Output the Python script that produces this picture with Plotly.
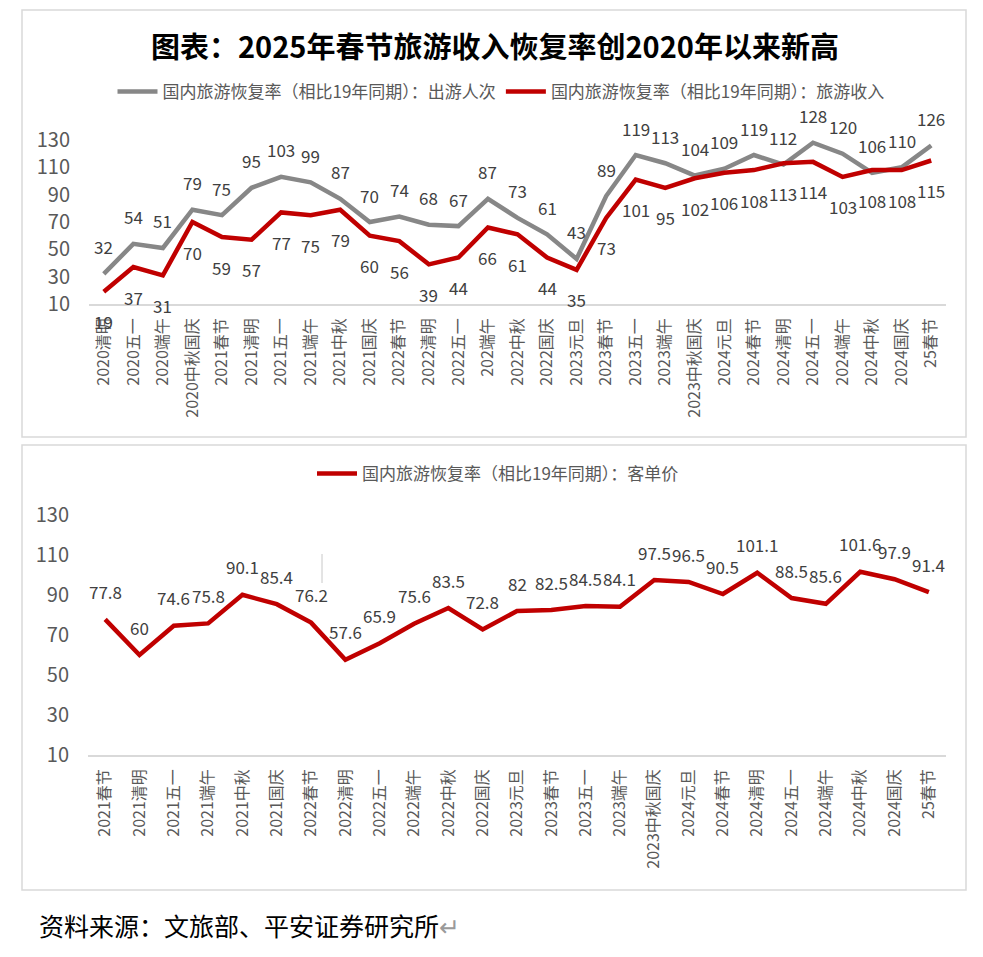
import plotly.graph_objects as go

# ---------------- data ----------------
cats_top = ["2020清明", "2020五一", "2020端午", "2020中秋国庆", "2021春节", "2021清明",
            "2021五一", "2021端午", "2021中秋", "2021国庆", "2022春节", "2022清明",
            "2022五一", "202端午", "2022中秋", "2022国庆", "2023元旦", "2023春节",
            "2023五一", "2023端午", "2023中秋国庆", "2024元旦", "2024春节", "2024清明",
            "2024五一", "2024端午", "2024中秋", "2024国庆", "25春节"]
trips = [32, 54, 51, 79, 75, 95, 103, 99, 87, 70, 74, 68, 67, 87, 73, 61, 43, 89,
         119, 113, 104, 109, 119, 112, 128, 120, 106, 110, 126]
revenue = [19, 37, 31, 70, 59, 57, 77, 75, 79, 60, 56, 39, 44, 66, 61, 44, 35, 73,
           101, 95, 102, 106, 108, 113, 114, 103, 108, 108, 115]

cats_bot = ["2021春节", "2021清明", "2021五一", "2021端午", "2021中秋", "2021国庆",
            "2022春节", "2022清明", "2022五一", "2022端午", "2022中秋", "2022国庆",
            "2023元旦", "2023春节", "2023五一", "2023端午", "2023中秋国庆", "2024元旦",
            "2024春节", "2024清明", "2024五一", "2024端午", "2024中秋", "2024国庆", "25春节"]
per_capita = [77.8, 60, 74.6, 75.8, 90.1, 85.4, 76.2, 57.6, 65.9, 75.6, 83.5, 72.8,
              82, 82.5, 84.5, 84.1, 97.5, 96.5, 90.5, 101.1, 88.5, 85.6, 101.6, 97.9, 91.4]

y_ticks = [10, 30, 50, 70, 90, 110, 130]

name_trips = "国内旅游恢复率（相比19年同期）：出游人次"
name_rev = "国内旅游恢复率（相比19年同期）：旅游收入"
name_pc = "国内旅游恢复率（相比19年同期）：客单价"
title_text = "图表：2025年春节旅游收入恢复率创2020年以来新高"
source_text = "资料来源：文旅部、平安证券研究所"

# ---------------- style ----------------
FONT = "Noto Sans CJK SC"
W, H = 983, 957
GRAY = "#878787"
RED = "#C00000"
TXT = "#404040"
AX = "#595959"


def px_x(v):
    return v / W


def px_y(v):
    return 1 - v / H


fig = go.Figure()

fig.add_trace(go.Scatter(x=cats_top, y=trips, mode="lines", name=name_trips,
                         line=dict(color=GRAY, width=4.5), xaxis="x", yaxis="y",
                         legend="legend"))
fig.add_trace(go.Scatter(x=cats_top, y=revenue, mode="lines", name=name_rev,
                         line=dict(color=RED, width=4.5), xaxis="x", yaxis="y",
                         legend="legend"))
fig.add_trace(go.Scatter(x=cats_bot, y=per_capita, mode="lines", name=name_pc,
                         line=dict(color=RED, width=4.5), xaxis="x2", yaxis="y2",
                         legend="legend2"))

annotations = []
for c, v in zip(cats_top, trips):
    annotations.append(dict(x=c, y=v, xref="x", yref="y", text=str(v), showarrow=False,
                            yshift=27, font=dict(size=17, color=TXT, family=FONT)))
for c, v in zip(cats_top, revenue):
    annotations.append(dict(x=c, y=v, xref="x", yref="y", text=str(v), showarrow=False,
                            yshift=-30, font=dict(size=17, color=TXT, family=FONT)))
for c, v in zip(cats_bot, per_capita):
    annotations.append(dict(x=c, y=v, xref="x2", yref="y2", text=f"{v:g}", showarrow=False,
                            yshift=28, font=dict(size=17, color=TXT, family=FONT)))

annotations.append(dict(x=px_x(495), y=px_y(45), xref="paper", yref="paper",
                        text="<b>" + title_text + "</b>", showarrow=False,
                        xanchor="center", yanchor="middle",
                        font=dict(size=29, color="#000000", family=FONT)))
annotations.append(dict(x=px_x(37), y=px_y(925), xref="paper", yref="paper",
                        text=source_text + "<span style='color:#9a9a9a'>↵</span>",
                        showarrow=False, xanchor="left", yanchor="middle",
                        font=dict(size=25, color="#000000", family=FONT)))

shapes = [
    dict(type="rect", xref="paper", yref="paper", x0=px_x(22), x1=px_x(966),
         y0=px_y(437), y1=px_y(10), line=dict(color="#d9d9d9", width=1.5)),
    dict(type="rect", xref="paper", yref="paper", x0=px_x(22), x1=px_x(966),
         y0=px_y(890), y1=px_y(445), line=dict(color="#d9d9d9", width=1.5)),
    dict(type="line", xref="paper", yref="paper", x0=px_x(322), x1=px_x(322),
         y0=px_y(583), y1=px_y(554), line=dict(color="#c8c8c8", width=1)),
]

xaxis_common = dict(type="category", tickangle=-90, showgrid=False, zeroline=False,
                    showline=True, linecolor="#d9d9d9", linewidth=1.5, ticks="",
                    automargin=False,
                    tickfont=dict(size=16, color=AX, family=FONT), ticklabelstandoff=6)
yaxis_common = dict(range=[10, 130], tickvals=y_ticks, showgrid=False, zeroline=False,
                    showline=False, ticks="", automargin=False,
                    tickfont=dict(size=20, color=AX, family=FONT),
                    ticklabelstandoff=18)

fig.update_layout(
    template="none",
    width=W, height=H,
    margin=dict(l=0, r=0, t=0, b=0, pad=0, autoexpand=False),
    paper_bgcolor="white", plot_bgcolor="white",
    font=dict(family=FONT, color=AX),
    xaxis=dict(domain=[px_x(89), px_x(946)], range=[-0.5, len(cats_top) - 0.5],
               anchor="y", **xaxis_common),
    yaxis=dict(domain=[px_y(304), px_y(140)], anchor="x", **yaxis_common),
    xaxis2=dict(domain=[px_x(88), px_x(946)], range=[-0.5, len(cats_bot) - 0.5],
                anchor="y2", **xaxis_common),
    yaxis2=dict(domain=[px_y(755), px_y(515)], anchor="x2", **yaxis_common),
    legend=dict(orientation="h", x=px_x(501), y=px_y(92), xanchor="center", yanchor="middle",
                font=dict(size=17, color=AX, family=FONT), bgcolor="rgba(0,0,0,0)",
                itemwidth=40),
    legend2=dict(orientation="h", x=px_x(498), y=px_y(474), xanchor="center",
                 yanchor="middle", font=dict(size=17, color=AX, family=FONT),
                 bgcolor="rgba(0,0,0,0)", itemwidth=40),
    annotations=annotations,
    shapes=shapes,
    showlegend=True,
)

fig.write_html("out.html")
